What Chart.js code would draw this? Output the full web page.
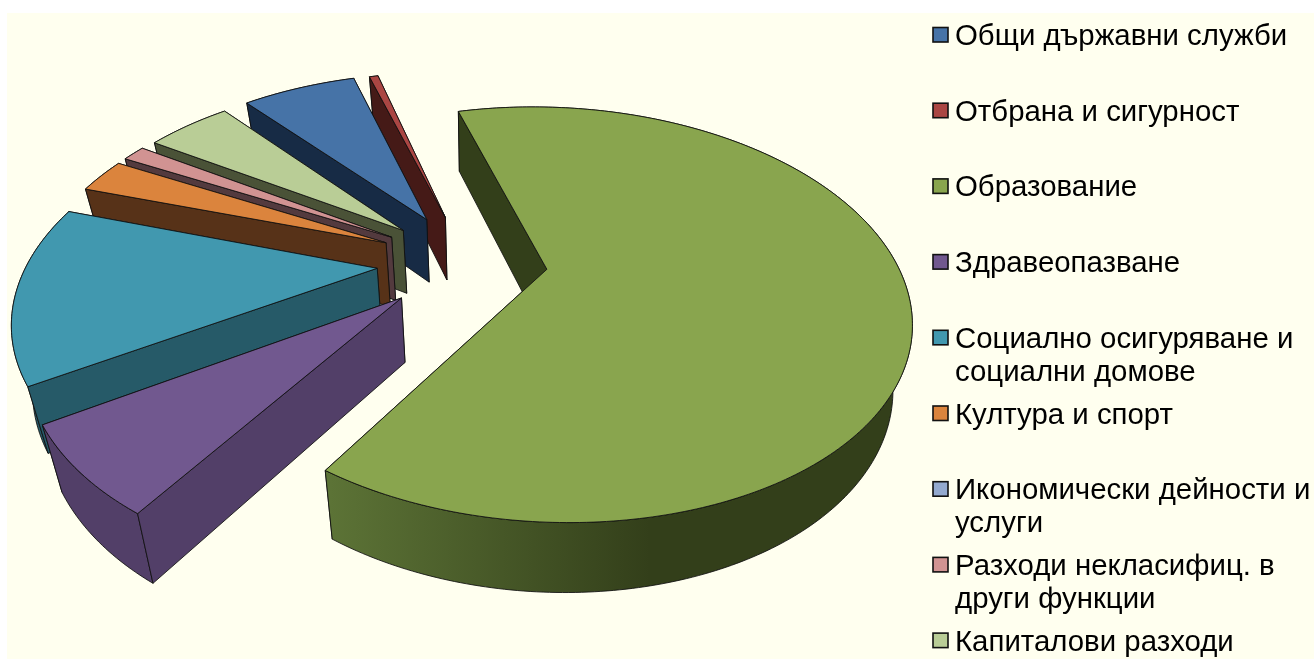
<!DOCTYPE html>
<html><head><meta charset="utf-8">
<style>html,body{margin:0;padding:0;background:#fff;overflow:hidden}canvas{display:block}</style>
<script src="https://cdn.jsdelivr.net/npm/chart.js@4"></script>
</head><body>
<canvas id="c" width="1314" height="659"></canvas>
<script>
const categories = [
  ['Общи държавни служби'],
  ['Отбрана и сигурност'],
  ['Образование'],
  ['Здравеопазване'],
  ['Социално осигуряване и','социални домове'],
  ['Култура и спорт'],
  ['Икономически дейности и','услуги'],
  ['Разходи некласифиц. в','други функции'],
  ['Капиталови разходи']
];
const shares = [6.55, 0.5, 63.7, 6.75, 13.9, 2.8, 0, 1.3, 4.8];
const topColors = ['#4673A7','#AA4643','#89A54E','#71588F','#4198AF','#DB843D','#93A9CF','#D19392','#B9CD96'];
const wallColors = ['#172B45','#451A17','#333F1A','#523F68','#265A68','#573218','#36455F','#533A3E','#4A5237'];
const explode = [26,25,22.7,25.5,26,26,26,26,25.5];
const drawOrder = [1,0,8,7,6,5,4,3,2];

const pie3d = {X0:468,Y0:262,A:349.5,B:194.7,k:0.217,xc:480,sx:0.955,sy:1.0244,dy:57.2};
function project(X,Z){const w=1-pie3d.k*Z;return [pie3d.X0+pie3d.A*X/w,pie3d.Y0+pie3d.B*Z/w];}
function lower(p){return [pie3d.xc+(p[0]-pie3d.xc)*pie3d.sx,p[1]*pie3d.sy+pie3d.dy];}
function poly(ctx,pts,close){ctx.beginPath();pts.forEach((p,i)=>i?ctx.lineTo(p[0],p[1]):ctx.moveTo(p[0],p[1]));if(close)ctx.closePath();}
function shade(ctx,pts,fill){poly(ctx,pts,true);ctx.fillStyle=fill;ctx.fill();ctx.strokeStyle='rgba(15,15,15,0.85)';ctx.lineWidth=1;ctx.stroke();}

const backdrop={id:'backdrop',beforeDraw(chart){const c=chart.ctx;c.save();c.fillStyle='#FFFFEF';c.fillRect(7,13,1307,646);c.restore();}};
const threeD={id:'threeD',
  beforeDatasetDraw(chart,args){
    const ctx=chart.ctx,els=args.meta.data;
    ctx.save();ctx.lineJoin='round';
    drawOrder.forEach(i=>{
      const el=els[i],o=el.options,a0=el.startAngle+Math.PI/2,a1=el.endAngle+Math.PI/2;
      if(a1-a0<1e-4)return;
      const m=(a0+a1)/2,e=o.offset/100;
      const ox=e*Math.sin(m),oz=-e*Math.cos(m);
      const n=Math.max(2,Math.ceil((a1-a0)/0.015));
      const arc=[];
      for(let s=0;s<=n;s++){const t=a0+(a1-a0)*s/n;arc.push(project(ox+Math.sin(t),oz-Math.cos(t)));}
      const apex=project(ox,oz),apexB=lower(apex),arcB=arc.map(lower);
      const wall=wallColors[i];
      // far cut face, then rim, then near cut face, then top
      shade(ctx,[apex,arc[n],arcB[n],apexB],wall);
      let fill=wall;
      if(i===2){const g=ctx.createLinearGradient(330,0,650,0);g.addColorStop(0,'#5C7336');g.addColorStop(1,'#333F1A');fill=g;}
      shade(ctx,arc.concat(arcB.slice().reverse()),fill);
      shade(ctx,[apex,arc[0],arcB[0],apexB],wall);
      shade(ctx,[apex].concat(arc),o.backgroundColor);
    });
    ctx.restore();
    return false;
  }};
const sideLegend={id:'sideLegend',afterDraw(chart){
  const c=chart.ctx,ds=chart.data.datasets[0];
  c.save();c.font='29.4px "Liberation Sans"';c.textBaseline='alphabetic';c.textAlign='left';
  chart.data.labels.forEach((lines,i)=>{
    const base=45+75.7*i;
    c.fillStyle=ds.backgroundColor[i];c.strokeStyle='#111';c.lineWidth=1.6;
    c.fillRect(933,base-17.5,15,14.5);c.strokeRect(933,base-17.5,15,14.5);
    c.fillStyle='#000';
    lines.forEach((t,j)=>c.fillText(t,955,base+j*33));
  });
  c.restore();
}};
new Chart(document.getElementById('c'),{
  type:'pie',
  data:{labels:categories,datasets:[{data:shares,backgroundColor:topColors,offset:explode,hoverOffset:0,borderWidth:0}]},
  options:{responsive:false,animation:false,rotation:-40.2,
    plugins:{legend:{display:false},tooltip:{enabled:false}}},
  plugins:[backdrop,threeD,sideLegend]
});
</script>
</body></html>
